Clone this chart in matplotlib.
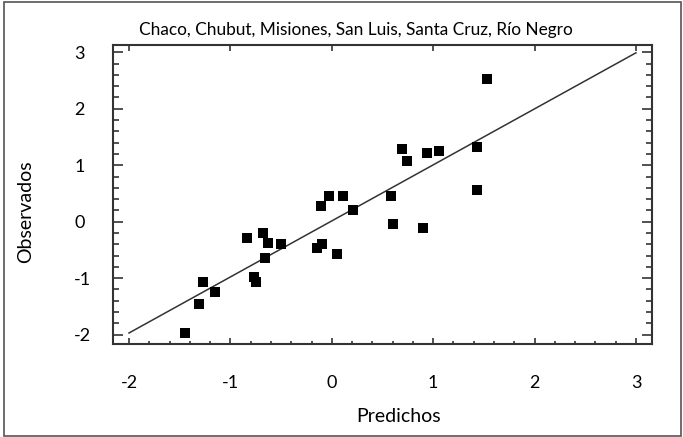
import numpy as np
import matplotlib
matplotlib.use("Agg")
import matplotlib.pyplot as plt
from matplotlib.patches import Rectangle
from matplotlib.ticker import MultipleLocator

predichos = [-1.45, -1.31, -1.27, -1.15, -0.84, -0.77, -0.75, -0.675, -0.656,
             -0.626, -0.50, -0.143, -0.10, -0.107, -0.025, 0.054, 0.113, 0.206,
             0.584, 0.607, 0.69, 0.74, 0.90, 0.94, 1.06, 1.435, 1.435, 1.53]
observados = [-1.97, -1.46, -1.07, -1.24, -0.29, -0.98, -1.07, -0.205, -0.65,
              -0.38, -0.39, -0.46, -0.40, 0.28, 0.46, -0.57, 0.46, 0.21,
              0.46, -0.04, 1.28, 1.07, -0.11, 1.21, 1.25, 1.32, 0.57, 2.53]
fit_intercept = 0.014
fit_slope = 0.992
fit_range = [-2.0, 3.0]

titulo = "Chaco, Chubut, Misiones, San Luis, Santa Cruz, Río Negro"

plt.rcParams["font.family"] = ["Lato", "DejaVu Sans"]
plt.rcParams["axes.unicode_minus"] = False

fig = plt.figure(figsize=(6.83, 4.37), dpi=100)
ax = fig.add_axes([0.1654, 0.2128, 0.7892, 0.6842])

xs = np.array(fit_range)
ax.plot(xs, fit_intercept + fit_slope * xs, color="#333333", lw=1.1, zorder=2)
ax.plot(predichos, observados, "s", color="black", ms=7.2, mew=0, zorder=3)

ax.set_xlim(-2.158, 3.158)
ax.set_ylim(-2.165, 3.128)

ax.xaxis.set_major_locator(MultipleLocator(1))
ax.xaxis.set_minor_locator(MultipleLocator(0.2))
ax.yaxis.set_major_locator(MultipleLocator(1))
ax.yaxis.set_minor_locator(MultipleLocator(0.2))

for s in ax.spines.values():
    s.set_linewidth(1.5)
    s.set_color("#333333")

ax.tick_params(axis="x", which="major", direction="in", length=4.5, width=1.2,
               color="#333333", top=True, pad=22, labelsize=13)
ax.tick_params(axis="x", which="minor", direction="in", length=2.2, width=1.2,
               color="#333333", top=False)
ax.tick_params(axis="y", which="major", direction="in", length=7.5, width=1.2,
               color="#333333", right=True, pad=28, labelsize=13)
ax.tick_params(axis="y", which="minor", direction="in", length=4.5, width=1.2,
               color="#333333", right=True)
for lab in ax.get_yticklabels():
    lab.set_horizontalalignment("left")

ax.set_xlabel("Predichos", fontsize=14)
ax.xaxis.set_label_coords(0.529, -0.215)
ax.set_ylabel("Observados", fontsize=14)
ax.yaxis.set_label_coords(-0.147, 0.442)

fig.text(0.521, 0.931, titulo, ha="center", va="center", fontsize=12.4)

fig.patches.append(Rectangle((4 / 683, 1 / 437), 677 / 683, 434 / 437,
                             transform=fig.transFigure, fill=False,
                             edgecolor="#555555", lw=1.2))

fig.savefig("out.png", dpi=100)
